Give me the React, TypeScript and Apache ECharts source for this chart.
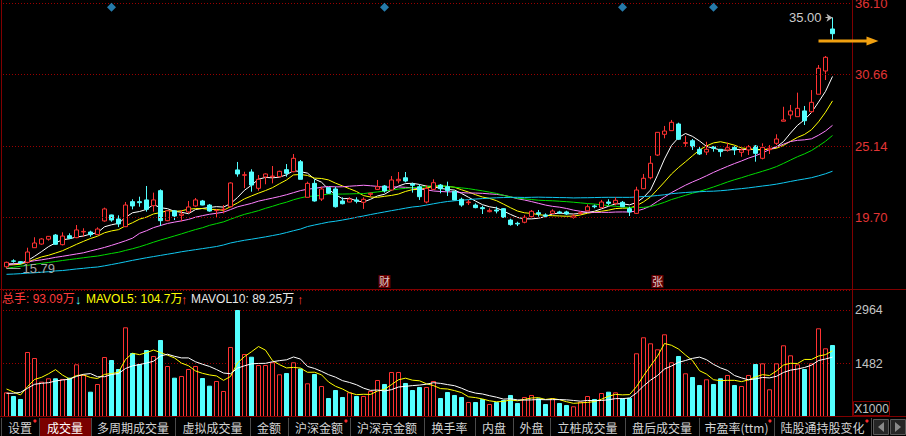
import React, { useEffect, useRef } from "react";
import * as echarts from "echarts";

// ---------- data ----------
const OPEN = [15.91,16.36,16.30,16.25,17.37,17.65,18.02,18.34,17.60,18.29,
18.14,18.58,18.57,18.37,19.42,19.88,19.57,18.98,20.90,20.90,
21.03,20.59,21.74,19.44,20.20,19.85,20.11,20.57,20.95,20.64,
20.21,20.29,20.51,23.33,22.92,23.17,21.92,22.79,22.81,22.81,
23.35,23.19,23.96,21.23,22.30,21.10,21.97,21.87,20.95,20.87,
21.03,20.85,21.46,21.84,22.10,21.79,22.50,22.73,22.25,22.04,
20.87,21.84,22.17,22.04,21.69,21.08,20.82,20.64,20.44,20.13,
20.26,20.36,19.49,19.24,19.32,19.75,20.05,19.88,20.00,20.11,
20.11,19.70,20.00,20.20,20.57,20.44,20.87,20.77,20.85,20.36,
20.00,21.89,22.73,24.47,26.06,26.34,26.85,25.37,25.57,24.91,
24.70,25.11,24.91,24.86,25.06,24.68,24.86,25.16,24.22,24.88,
25.37,27.06,27.54,27.41,27.85,27.79,29.13,30.91,34.13];
const CLOSE = [16.25,16.33,16.20,17.04,17.73,18.04,18.24,17.63,18.26,18.09,
18.73,18.62,18.37,18.80,20.34,19.49,19.19,20.64,20.57,20.82,
20.31,21.03,19.44,20.20,19.80,19.95,20.49,21.03,20.64,20.18,
20.24,20.32,22.33,23.02,22.96,22.17,22.61,23.02,22.86,23.22,
23.07,24.22,22.61,22.30,20.95,21.87,21.54,20.51,20.74,21.10,
20.93,21.08,21.54,22.04,21.72,22.56,22.61,22.48,22.15,21.28,
21.92,22.35,21.89,21.74,21.03,20.64,20.87,20.44,20.36,20.23,
20.18,19.70,19.14,19.19,19.70,20.16,19.95,19.80,20.18,20.03,
19.95,19.80,20.05,20.51,20.51,20.87,20.77,21.00,20.51,20.11,
21.79,22.69,23.84,26.21,26.31,26.98,25.68,25.42,25.11,24.55,
24.91,24.99,24.73,25.03,24.86,24.86,25.11,24.60,25.06,24.99,
25.70,27.16,27.85,28.05,27.10,28.51,31.12,31.96,33.77];
const LOW = [15.79,16.22,16.10,16.17,17.37,17.60,17.91,17.60,17.55,18.04,
18.10,18.21,18.21,18.34,19.36,19.36,18.95,18.95,20.31,20.51,
20.13,20.13,19.03,19.40,19.49,19.39,20.00,20.51,20.62,20.13,
19.70,20.00,20.45,22.81,21.93,21.66,21.74,22.23,22.30,22.76,
22.81,23.15,22.61,21.23,20.90,20.95,21.50,20.44,20.69,20.85,
20.77,20.34,21.28,21.79,21.59,21.74,22.30,22.38,21.59,21.03,
20.77,21.79,21.54,21.33,21.00,20.51,20.64,20.39,19.95,20.08,
20.00,19.65,19.06,19.03,19.24,19.70,19.75,19.70,19.95,19.95,
19.88,19.59,19.90,20.16,20.39,20.41,20.62,20.62,20.49,19.80,
19.95,21.89,22.61,24.40,25.75,26.34,25.62,25.11,24.86,24.47,
24.47,24.73,24.34,24.73,24.47,24.34,24.47,23.96,24.14,24.55,
25.24,27.06,27.21,27.41,26.77,27.71,29.13,30.22,33.21];
const HIGH = [16.30,16.48,16.35,17.37,18.17,18.10,18.26,18.42,18.55,18.47,
19.11,18.86,18.67,18.93,20.44,19.90,19.85,20.87,21.08,21.28,
22.10,21.59,21.84,20.25,20.26,20.26,20.95,21.18,21.03,20.72,
20.31,20.64,22.38,23.94,23.19,23.38,22.94,23.07,23.63,23.27,
23.78,24.55,24.09,22.43,22.61,22.04,22.00,22.04,21.23,21.23,
21.23,21.23,21.59,22.56,22.17,22.86,23.17,23.17,22.35,22.23,
22.17,22.61,22.25,22.43,21.72,21.20,21.03,20.77,20.59,20.39,
20.51,20.40,19.59,19.36,19.88,20.26,20.26,20.00,20.31,20.20,
20.20,19.95,20.15,20.69,20.67,21.03,21.08,21.23,20.95,20.51,
22.04,23.02,24.40,26.23,26.70,27.16,26.95,25.93,25.70,25.11,
25.49,25.16,24.91,25.42,25.16,24.99,25.24,25.24,25.37,25.24,
26.06,28.17,28.31,29.25,28.23,29.45,31.37,32.06,35.00];
const VOLUME = [685,583,500,1804,1637,980,1074,1074,1055,1091,
1462,1166,702,916,1665,1582,1332,2489,1776,1471,
1859,1693,2137,1415,1091,1138,1332,1415,1082,869,
999,722,1943,2969,1748,1673,1443,1443,1518,1185,
1221,1518,1346,935,1193,860,527,749,555,685,
583,583,722,1027,916,1249,1249,944,749,833,
833,999,527,694,611,555,416,416,500,361,
416,472,611,389,555,611,519,361,519,389,
333,297,425,583,500,666,702,685,519,536,
1768,2212,2045,1879,2295,1518,1693,1213,1110,888,
1046,916,1074,1166,888,860,1166,1471,1490,769,
1490,1990,1712,1462,1332,1490,2461,1906,1998];

// moving-average values before a full window exists
const MA5_HEAD = [16.12,16.14,16.18,16.37];
const MA10_HEAD = [16.04,16.06,16.10,16.27,16.47,16.66,16.79,16.96,17.14];
const MA20_HEAD = [16.04,16.12,16.20,16.28,16.37,16.44,16.53,16.63,16.71,16.80,16.89,16.98,17.12,17.25,17.39,17.55,17.72,17.90,18.10];
const MA30_HEAD = [15.79,15.87,15.95,16.02,16.10,16.17,16.24,16.31,16.39,16.46,16.53,16.60,16.67,16.73,16.83,16.93,17.02,17.16,17.29,17.44,17.61,17.79,17.96,18.11,18.27,18.43,18.60,18.76,18.90];
const MA60_HEAD = [15.33,15.35,15.38,15.42,15.45,15.49,15.53,15.59,15.62,15.68,
15.74,15.79,15.85,15.89,15.98,16.08,16.18,16.29,16.40,16.50,
16.60,16.69,16.78,16.87,16.96,17.06,17.14,17.22,17.30,17.38,
17.46,17.58,17.73,17.84,17.94,18.02,18.11,18.20,18.30,18.40,
18.53,18.67,18.80,18.99,19.11,19.22,19.33,19.40,19.49,19.59,
19.70,19.80,19.91,20.01,20.11,20.21,20.30,20.40,20.49];
const MAVOL5_HEAD = [777,694,611,841];
const MAVOL10_HEAD = [658,658,685,796,907,935,952,999,1027];

const PRICE_LEVELS = [19.70, 25.14, 30.66, 36.10];
const VOLUME_STEP = 1482;
const EVENT_DAYS = [15, 54, 88, 101];
const EVENT_PRICE = 35.79;
const NEWS_DAYS = [54, 93];
const NEWS_TEXT = ["财", "张"];
const NEWS_PRICE = 14.78;
const MAX_DAY = 118, MAX_PRICE = 35.0;
const MIN_DAY = 0, MIN_PRICE = 15.79;
const ARROW_PRICE = 33.21;
const LEGEND_TOTAL = "总手: 93.09万";
const LEGEND_MAVOL5 = "MAVOL5: 104.7万";
const LEGEND_MAVOL10 = "MAVOL10: 89.25万";
const TAB_LABELS = ["设置","成交量","多周期成交量","虚拟成交量","金额","沪深金额","沪深京金额","换手率","内盘","外盘","立桩成交量","盘后成交量","市盈率(ttm)","陆股通持股变化"];
const TAB_DOT = [true,false,false,false,false,true,false,false,false,false,false,false,true,true];
const ACTIVE_TAB = 1;

// ---------- layout / style constants ----------
const SLOTS = 121;
const PRICE_MIN = 14.205, PRICE_MAX = 36.351;
const VOL_MAX = 3524;
const TAB_EDGES = [1,39,91,175,250,288,350,424,475,513,550,625,699,774,871];
const FONT = "'Liberation Sans', Arial, 'Noto Sans CJK SC', sans-serif";
const CJK = "'Noto Sans CJK SC', 'Liberation Sans', sans-serif";
const RED = "#ff3232";
const CYAN = "#54ffff";
const DARKRED = "#800000";
const GRIDRED = "#9a0000";

function movingAvg(values: number[], n: number, head: number[]) {
  return values.map((_, i) => {
    if (i < n - 1) return head[i];
    let s = 0;
    for (let k = i - n + 1; k <= i; k++) s += values[k];
    return +(s / n).toFixed(3);
  });
}

function buildOption(arrowPt: number[] | null) {
  const categories = Array.from({ length: SLOTS }, (_, i) => String(i + 1));
  const isUp = (i: number) => CLOSE[i] >= OPEN[i];
  const candles = OPEN.map((o, i) => [o, CLOSE[i], LOW[i], HIGH[i]]);
  const maLine = (name: string, data: number[], color: string, extra: any = {}) => ({
    name, type: "line", xAxisIndex: 0, yAxisIndex: 0, data, symbol: "none",
    lineStyle: { color, width: 1 }, silent: true, z: 3, ...extra,
  });

  const graphic: any[] = [];
  // frame
  graphic.push({ type: "line", z: 100, shape: { x1: 1.5, y1: 0, x2: 1.5, y2: 417 }, style: { stroke: DARKRED, lineWidth: 1 } });
  graphic.push({ type: "line", z: 100, shape: { x1: 852.5, y1: 0, x2: 852.5, y2: 417 }, style: { stroke: DARKRED, lineWidth: 1 } });
  graphic.push({ type: "line", z: 100, shape: { x1: 0, y1: 289.5, x2: 906, y2: 289.5 }, style: { stroke: DARKRED, lineWidth: 1 } });
  // volume legend
  const leg = (x: number, text: string, fill: string, size = 12) => ({
    type: "text", z: 100, x, y: 299,
    style: { text, fill, font: `${size}px ${FONT}`, verticalAlign: "middle", textVerticalAlign: "middle" },
  });
  graphic.push(leg(2, LEGEND_TOTAL, "#ff3c3c"));
  graphic.push(leg(75, "↓", CYAN, 13));
  graphic.push(leg(86, LEGEND_MAVOL5, "#ffff00"));
  graphic.push(leg(181, "↑", "#ff3c3c", 13));
  graphic.push(leg(191, LEGEND_MAVOL10, "#e8e8e8"));
  graphic.push(leg(297, "↑", "#ff3c3c", 13));
  // X1000 box
  graphic.push({ type: "rect", z: 100, shape: { x: 853.5, y: 401.5, width: 36, height: 14 }, style: { fill: "#000", stroke: DARKRED, lineWidth: 1 } });
  graphic.push({ type: "text", z: 101, x: 871.5, y: 409, style: { text: "X1000", fill: "#c0c0c0", font: `12px ${FONT}`, align: "center", textAlign: "center", verticalAlign: "middle", textVerticalAlign: "middle" } });
  // tab bar
  graphic.push({ type: "rect", z: 100, shape: { x: 0, y: 417, width: 906, height: 19 }, style: { fill: "#000" } });
  TAB_LABELS.forEach((label, k) => {
    const x0 = TAB_EDGES[k], x1 = TAB_EDGES[k + 1];
    if (k === ACTIVE_TAB) {
      graphic.push({ type: "rect", z: 101, shape: { x: x0 + 1, y: 418, width: x1 - x0 - 1, height: 18 }, style: { fill: "#7a0000" } });
    }
    graphic.push({ type: "text", z: 102, x: (x0 + x1) / 2, y: 427.5, style: { text: label, fill: k === ACTIVE_TAB ? "#ffffff" : "#d4d4d4", font: `12px ${CJK}`, align: "center", textAlign: "center", verticalAlign: "middle", textVerticalAlign: "middle" } });
    if (TAB_DOT[k]) {
      graphic.push({ type: "circle", z: 102, shape: { cx: x1 - 4, cy: 421, r: 1.6 }, style: { fill: "#ff2a2a" } });
    }
  });
  TAB_EDGES.forEach((x) => {
    graphic.push({ type: "line", z: 102, shape: { x1: x + 0.5, y1: 418, x2: x + 0.5, y2: 436 }, style: { stroke: "#4a4a4a", lineWidth: 1 } });
  });
  [873, 890].forEach((x, k) => {
    graphic.push({ type: "rect", z: 101, shape: { x: x + 0.5, y: 419.5, width: 15, height: 15 }, style: { fill: "#262626", stroke: "#5a5a5a", lineWidth: 1 } });
    const cx = x + 8, cy = 427;
    const pts = k === 0 ? [[cx + 3, cy - 5], [cx - 3, cy], [cx + 3, cy + 5]] : [[cx - 3, cy - 5], [cx + 3, cy], [cx - 3, cy + 5]];
    graphic.push({ type: "polygon", z: 102, shape: { points: pts }, style: { fill: "#8a8a8a" } });
  });
  graphic.push({ type: "line", z: 103, shape: { x1: 0, y1: 416.5, x2: 906, y2: 416.5 }, style: { stroke: DARKRED, lineWidth: 1 } });
  // orange arrow
  if (arrowPt) {
    const [ax, ay] = arrowPt;
    graphic.push({ type: "line", z: 100, shape: { x1: ax - 14, y1: ay, x2: ax + 36, y2: ay }, style: { stroke: "#f0a010", lineWidth: 3 } });
    graphic.push({ type: "polygon", z: 100, shape: { points: [[ax + 34, ay - 4.5], [ax + 46, ay], [ax + 34, ay + 4.5]] }, style: { fill: "#f0a010" } });
  }

  return {
    backgroundColor: "#000000",
    animation: false,
    grid: [
      { left: 3, top: 0, width: 847, height: 289 },
      { left: 3, top: 290, width: 847, height: 127 },
    ],
    xAxis: [
      { type: "category", gridIndex: 0, data: categories, boundaryGap: true, show: false },
      { type: "category", gridIndex: 1, data: categories, boundaryGap: true, show: false },
    ],
    yAxis: [
      { type: "value", gridIndex: 0, min: PRICE_MIN, max: PRICE_MAX, position: "right", scale: true,
        axisLine: { show: false }, axisTick: { show: false }, axisLabel: { show: false }, splitLine: { show: false } },
      { type: "value", gridIndex: 1, min: 0, max: VOL_MAX, interval: VOLUME_STEP, position: "right",
        axisLine: { show: false }, axisTick: { show: false },
        axisLabel: { show: true, color: "#c4c4c4", fontSize: 12.5, fontFamily: FONT, margin: 5, showMinLabel: false, showMaxLabel: false,
          formatter: (v: number) => String(Math.round(v)) },
        splitLine: { show: true, lineStyle: { color: GRIDRED, type: [1, 2], width: 1 } } },
    ],
    series: [
      {
        name: "K", type: "candlestick", xAxisIndex: 0, yAxisIndex: 0, data: candles, barWidth: 5, silent: true, z: 4,
        itemStyle: { color: "#000000", color0: CYAN, borderColor: RED, borderColor0: CYAN, borderColorDoji: RED, borderWidth: 1 },
        markLine: {
          silent: true, animation: false, symbol: ["none", "arrow"], symbolSize: 6,
          lineStyle: { color: "#b8b8b8", width: 1, type: "solid" },
          label: { show: true, position: "start", distance: 4, color: "#cccccc", fontSize: 13, fontFamily: FONT, formatter: MAX_PRICE.toFixed(2) },
          data: [[{ coord: [MAX_DAY - 1, MAX_PRICE] }, { coord: [MAX_DAY, MAX_PRICE] }]],
        },
      },
      maLine("MA5", movingAvg(CLOSE, 5, MA5_HEAD), "#ffffff", {
        markLine: {
          silent: true, animation: false, symbol: "none",
          lineStyle: { color: "#a0a0a0", width: 1, type: "solid" },
          label: { show: true, position: "end", distance: 2, color: "#a8a8a8", fontSize: 13, fontFamily: FONT, formatter: MIN_PRICE.toFixed(2) },
          data: [[{ coord: [MIN_DAY, MIN_PRICE] }, { coord: [MIN_DAY + 2, MIN_PRICE] }]],
        },
      }),
      maLine("MA10", movingAvg(CLOSE, 10, MA10_HEAD), "#ffff00"),
      maLine("MA20", movingAvg(CLOSE, 20, MA20_HEAD), "#ff80ff"),
      maLine("MA30", movingAvg(CLOSE, 30, MA30_HEAD), "#00dc00"),
      maLine("MA60", movingAvg(CLOSE, 60, MA60_HEAD), "#10c8f0", {
        markLine: {
          silent: true, animation: false, symbol: "none",
          lineStyle: { color: GRIDRED, type: [1, 2], width: 1 },
          label: { show: true, position: "end", distance: 5, color: "#e23535", fontSize: 13, fontFamily: FONT, formatter: (p: any) => Number(p.value).toFixed(2) },
          data: PRICE_LEVELS.map((v) => ({ yAxis: v })),
        },
      }),
      {
        name: "events", type: "scatter", xAxisIndex: 0, yAxisIndex: 0, silent: true, z: 5,
        symbol: "diamond", symbolSize: 9, itemStyle: { color: "#2e9ad4" },
        data: EVENT_DAYS.map((d) => [d, EVENT_PRICE]),
      },
      {
        name: "news", type: "scatter", xAxisIndex: 0, yAxisIndex: 0, silent: true, z: 5,
        symbol: "rect", symbolSize: [12, 13], itemStyle: { color: "#800000" },
        label: { show: true, position: "inside", color: "#ffffff", fontSize: 11, fontFamily: CJK, formatter: (p: any) => NEWS_TEXT[p.dataIndex] },
        data: NEWS_DAYS.map((d) => [d, NEWS_PRICE]),
      },
      {
        name: "VOL", type: "bar", xAxisIndex: 1, yAxisIndex: 1, barWidth: 5, silent: true, z: 2,
        data: VOLUME.map((v, i) => ({
          value: v,
          itemStyle: { color: isUp(i) ? "#000000" : CYAN, borderColor: isUp(i) ? RED : CYAN, borderWidth: 1 },
        })),
      },
      { name: "MAVOL5", type: "line", xAxisIndex: 1, yAxisIndex: 1, symbol: "none", silent: true, z: 3,
        lineStyle: { color: "#ffff00", width: 1 }, data: movingAvg(VOLUME, 5, MAVOL5_HEAD) },
      { name: "MAVOL10", type: "line", xAxisIndex: 1, yAxisIndex: 1, symbol: "none", silent: true, z: 3,
        lineStyle: { color: "#ffffff", width: 1 }, data: movingAvg(VOLUME, 10, MAVOL10_HEAD) },
    ],
    graphic,
  };
}

export default function App() {
  const ref = useRef<HTMLDivElement>(null);
  useEffect(() => {
    if (!ref.current) return;
    const chart = echarts.init(ref.current, null, { renderer: "svg", width: 906, height: 436 });
    chart.setOption(buildOption(null) as any);
    const pt = chart.convertToPixel({ gridIndex: 0 } as any, [MAX_DAY, ARROW_PRICE]) as unknown as number[];
    chart.setOption(buildOption(pt) as any, { notMerge: true });
    return () => chart.dispose();
  }, []);
  return (
    <div
      ref={ref}
      style={{ position: "fixed", left: 0, top: 0, width: 906, height: 436, background: "#000" }}
    />
  );
}
